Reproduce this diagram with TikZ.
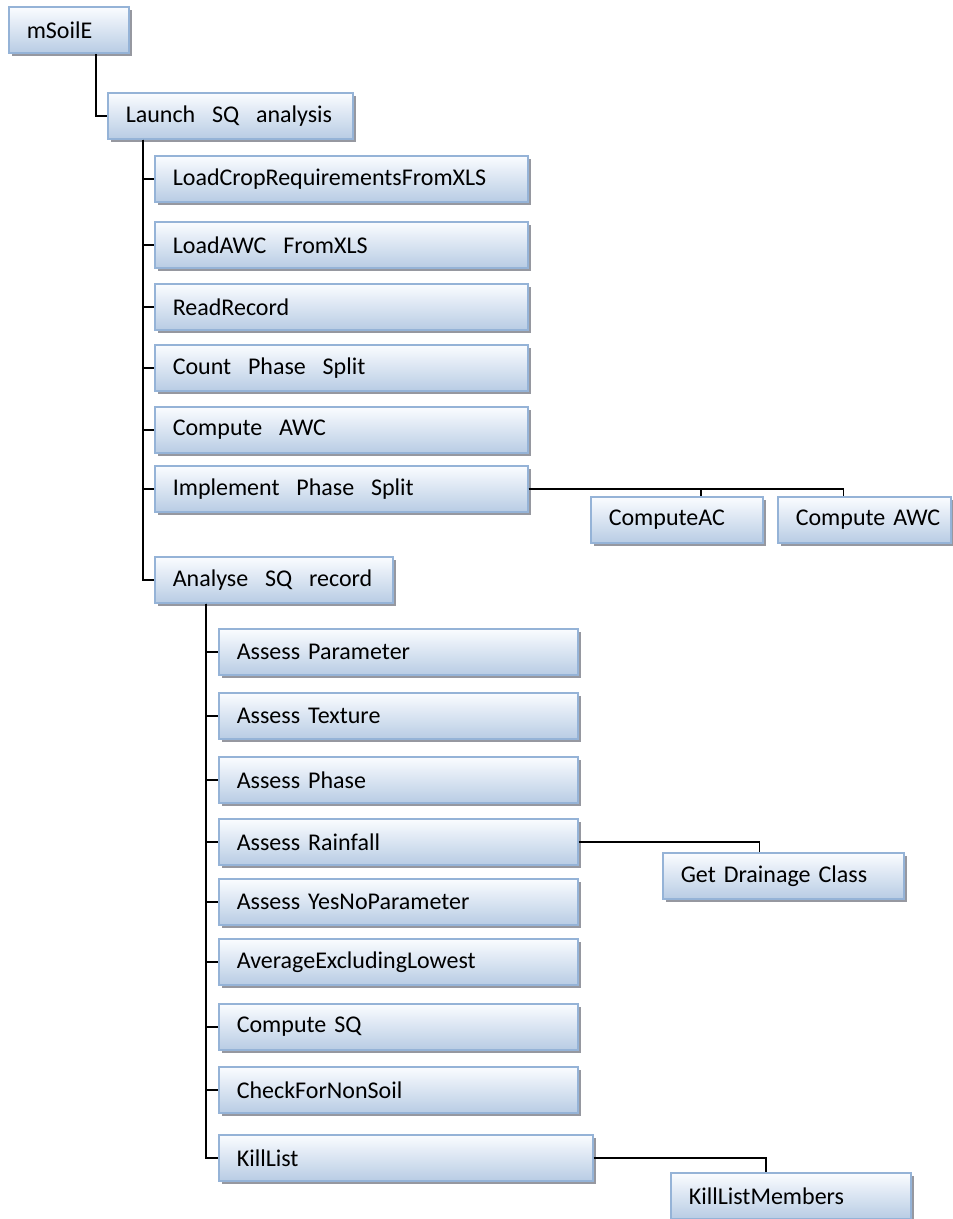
\documentclass[tikz,border=0pt]{standalone}
\usepackage{fontspec}
\setmainfont{Carlito}
\definecolor{BoxEdge}{RGB}{149,179,215}
\definecolor{BoxTop}{RGB}{250,252,255}
\definecolor{BoxBottom}{RGB}{184,204,228}
\definecolor{ShadowGray}{RGB}{150,152,160}
\usetikzlibrary{shadows, calc}
\newcommand{\wsp}{\hspace{0.7em}}

\begin{document}
\begin{tikzpicture}[x=1pt, y=-1pt, font=\fontsize{24}{28}\selectfont,
	unit/.style={rectangle, draw=BoxEdge, line width=1.6pt, top color=BoxTop,
		bottom color=BoxBottom, minimum height=46pt, inner xsep=0pt, align=left,
		anchor=west, text width=#1, execute at begin node={\hspace*{18pt}},
		drop shadow={shadow xshift=3pt, shadow yshift=-3pt, fill=ShadowGray, opacity=1}},
	conn/.style={draw=black, line width=1.5pt}]

	\useasboundingbox (0,0) rectangle (953,1219);

	% root and first call
	\node[unit=120pt] (msoile) at (8,30) {mSoilE};
	\node[unit=245pt] (launch) at (107,116) {Launch\wsp SQ\wsp analysis};

	% level two
	\node[unit=373pt] (loadcrop) at (154,179) {LoadCropRequirementsFromXLS};
	\node[unit=373pt] (loadawc) at (154,245) {LoadAWC\wsp FromXLS};
	\node[unit=373pt] (readrec) at (154,307) {ReadRecord};
	\node[unit=373pt] (countps) at (154,368) {Count\wsp Phase\wsp Split};
	\node[unit=373pt] (compawc) at (154,430) {Compute\wsp AWC};
	\node[unit=373pt] (implps) at (154,489) {Implement\wsp Phase\wsp Split};
	\node[unit=238pt] (analyse) at (154,580) {Analyse\wsp SQ\wsp record};

	\node[unit=172pt] (computeac) at (590,520) {ComputeAC};
	\node[unit=173pt] (computeawc) at (777,520) {Compute AWC};

	% level three
	\node[unit=359pt] (param) at (218,652) {Assess Parameter};
	\node[unit=359pt] (texture) at (218,716) {Assess Texture};
	\node[unit=359pt] (phase) at (218,780) {Assess Phase};
	\node[unit=359pt] (rainfall) at (218,842) {Assess Rainfall};
	\node[unit=359pt] (yesno) at (218,902) {Assess YesNoParameter};
	\node[unit=359pt] (average) at (218,962) {AverageExcludingLowest};
	\node[unit=359pt] (computesq) at (218,1027) {Compute SQ};
	\node[unit=359pt] (checkns) at (218,1090) {CheckForNonSoil};
	\node[unit=374pt] (killlist) at (218,1158) {KillList};

	\node[unit=241pt] (drainage) at (662,876) {Get Drainage Class};
	\node[unit=240pt] (killmembers) at (670,1196) {KillListMembers};

	% connectors
	\draw[conn] ([xshift=27pt]msoile.south) |- (launch.west);
	\foreach \kid in {loadcrop,loadawc,readrec,countps,compawc,implps,analyse}
		\draw[conn] ([xshift=36pt]launch.south west) |- (\kid.west);
	\foreach \kid in {param,texture,phase,rainfall,yesno,average,computesq,checkns,killlist}
		\draw[conn] ([xshift=52pt]analyse.south west) |- (\kid.west);
	\draw[conn] (implps.east) -| ([xshift=24pt]computeac.north);
	\draw[conn] (implps.east) -| ([xshift=-21pt]computeawc.north);
	\draw[conn] (rainfall.east) -| ([xshift=-24pt]drainage.north);
	\draw[conn] (killlist.east) -| ([xshift=-25pt]killmembers.north);
\end{tikzpicture}
\end{document}
